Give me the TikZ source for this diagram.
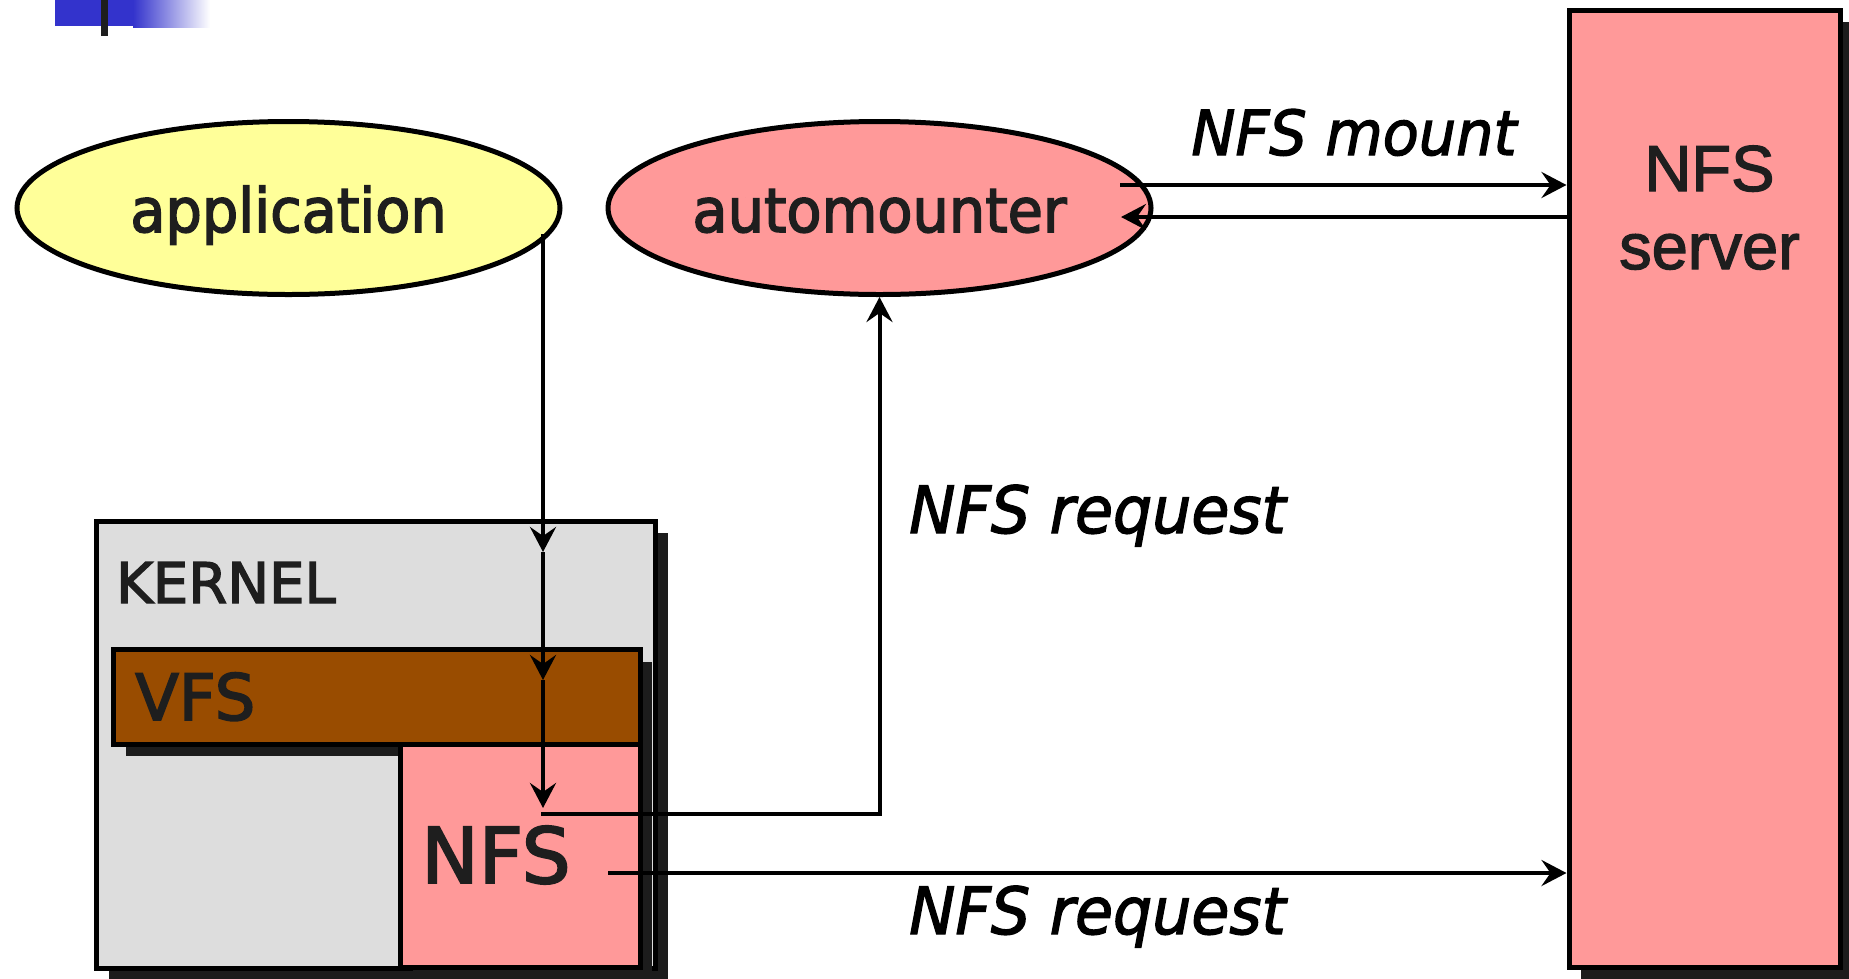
\documentclass[tikz,border=0pt]{standalone}
\usepackage{fontspec}
\usetikzlibrary{arrows.meta,shapes.geometric,shadows}

% Fonts
\newfontfamily\lblfont[FakeStretch=0.94,FakeBold=2.5]{DejaVu Sans}
\newfontfamily\boxfont[FakeBold=2.5]{DejaVu Sans}
\newfontfamily\itfont[FakeStretch=0.95,FakeBold=2]{DejaVu Sans}
\newfontfamily\srvfont[FakeBold=2]{Liberation Sans}

% Colours
\definecolor{pinkfill}{HTML}{FF9999}
\definecolor{yellowfill}{HTML}{FFFF99}
\definecolor{vfsbrown}{HTML}{994C00}
\definecolor{kernelgray}{HTML}{DDDDDD}
\definecolor{shadowgray}{HTML}{1C1C1C}
\definecolor{logoblue}{HTML}{3333CC}
\definecolor{inkgray}{HTML}{1E1E1E}

\begin{document}
\begin{tikzpicture}[x=1pt,y=-1pt,
  border/.style={draw=black, line width=5pt, inner sep=0pt},
  bubble/.style={border, ellipse, minimum width=543pt, minimum height=173pt,
                 text height=60pt, text depth=12pt, text=inkgray,
                 font=\lblfont\fontsize{61}{66}\selectfont},
  layer/.style={border, rectangle,
                drop shadow={shadow xshift=12pt, shadow yshift=-12pt, opacity=1, fill=shadowgray}},
  flow/.style={draw=black, line width=4pt, -{Stealth[length=25pt,width=26pt,inset=9pt]}},
  caption/.style={inner sep=0pt, anchor=base, text=black,
                  font=\itfont\itshape\fontsize{65}{70}\selectfont},
  boxlabel/.style={inner sep=0pt, anchor=base west, text=inkgray},
]
\useasboundingbox (0,0) rectangle (1849,978);

% corner logo
\fill[logoblue] (55,0) rectangle (133,26);
\shade[left color=logoblue, right color=white] (133,0) rectangle (210,27);
\fill[inkgray] (101,0) rectangle (108,36);

% user-space processes
\node[bubble, fill=yellowfill] (app) at (288.5,208) {application};
\node[bubble, fill=pinkfill] (auto) at (879.5,208) {automounter};

% kernel layers
\node[layer, fill=kernelgray, minimum width=558.8pt, minimum height=447.7pt] (kernel) at (376.1,744.85) {};
\node[layer, fill=vfsbrown, minimum width=526.5pt, minimum height=94.5pt] (vfs) at (376.75,696.75) {};
\node[layer, fill=pinkfill, minimum width=239.5pt, minimum height=223.5pt] (nfs) at (520.25,855.75) {};

\node[boxlabel, font=\boxfont\fontsize{56}{60}\selectfont] (kerneltxt) at (116,603) {KERNEL};
\node[boxlabel, font=\boxfont\fontsize{64}{70}\selectfont] (vfstxt) at (135,720) {VFS};
\node[boxlabel, font=\boxfont\fontsize{77}{82}\selectfont] (nfstxt) at (421,883) {NFS};

% server
\node[layer, fill=pinkfill, minimum width=271.5pt, minimum height=957pt] (server) at (1704.75,488.5) {};
\node[inner sep=0pt, anchor=base, align=center, text=inkgray,
      font=\srvfont\fontsize{65}{78}\selectfont] (servertxt) at (1709.5,269) {NFS\\server};

% call path through the kernel
\coordinate (k0) at ([xshift=254.5pt,yshift=-26pt]app.center);
\coordinate (k1) at (543,552);
\coordinate (k2) at (543,680);
\coordinate (k3) at (543,808);
\coordinate (k4) at (541,814);
\draw[flow] (k0) -- (k1);
\draw[flow] (k1) -- (k2);
\draw[flow] (k2) -- (k3);
\draw[flow] (k4) -| (auto.south);

% mount exchange and requests to the server
\coordinate (m0) at (1120,185);
\coordinate (m1) at (1121,217);
\coordinate (r0) at (608,873);
\draw[flow] (m0) -- (m0 -| server.west);
\draw[flow] (m1 -| server.west) -- (m1);
\draw[flow] (r0) -- (r0 -| server.west);

% connector captions
\node[caption, font=\itfont\itshape\fontsize{62}{66}\selectfont] (mounttxt) at (1354,155) {NFS mount};
\node[caption] (reqtxt) at (1097.5,533) {NFS request};
\node[caption] (reqtxt2) at (1097.5,934) {NFS request};
\end{tikzpicture}
\end{document}
